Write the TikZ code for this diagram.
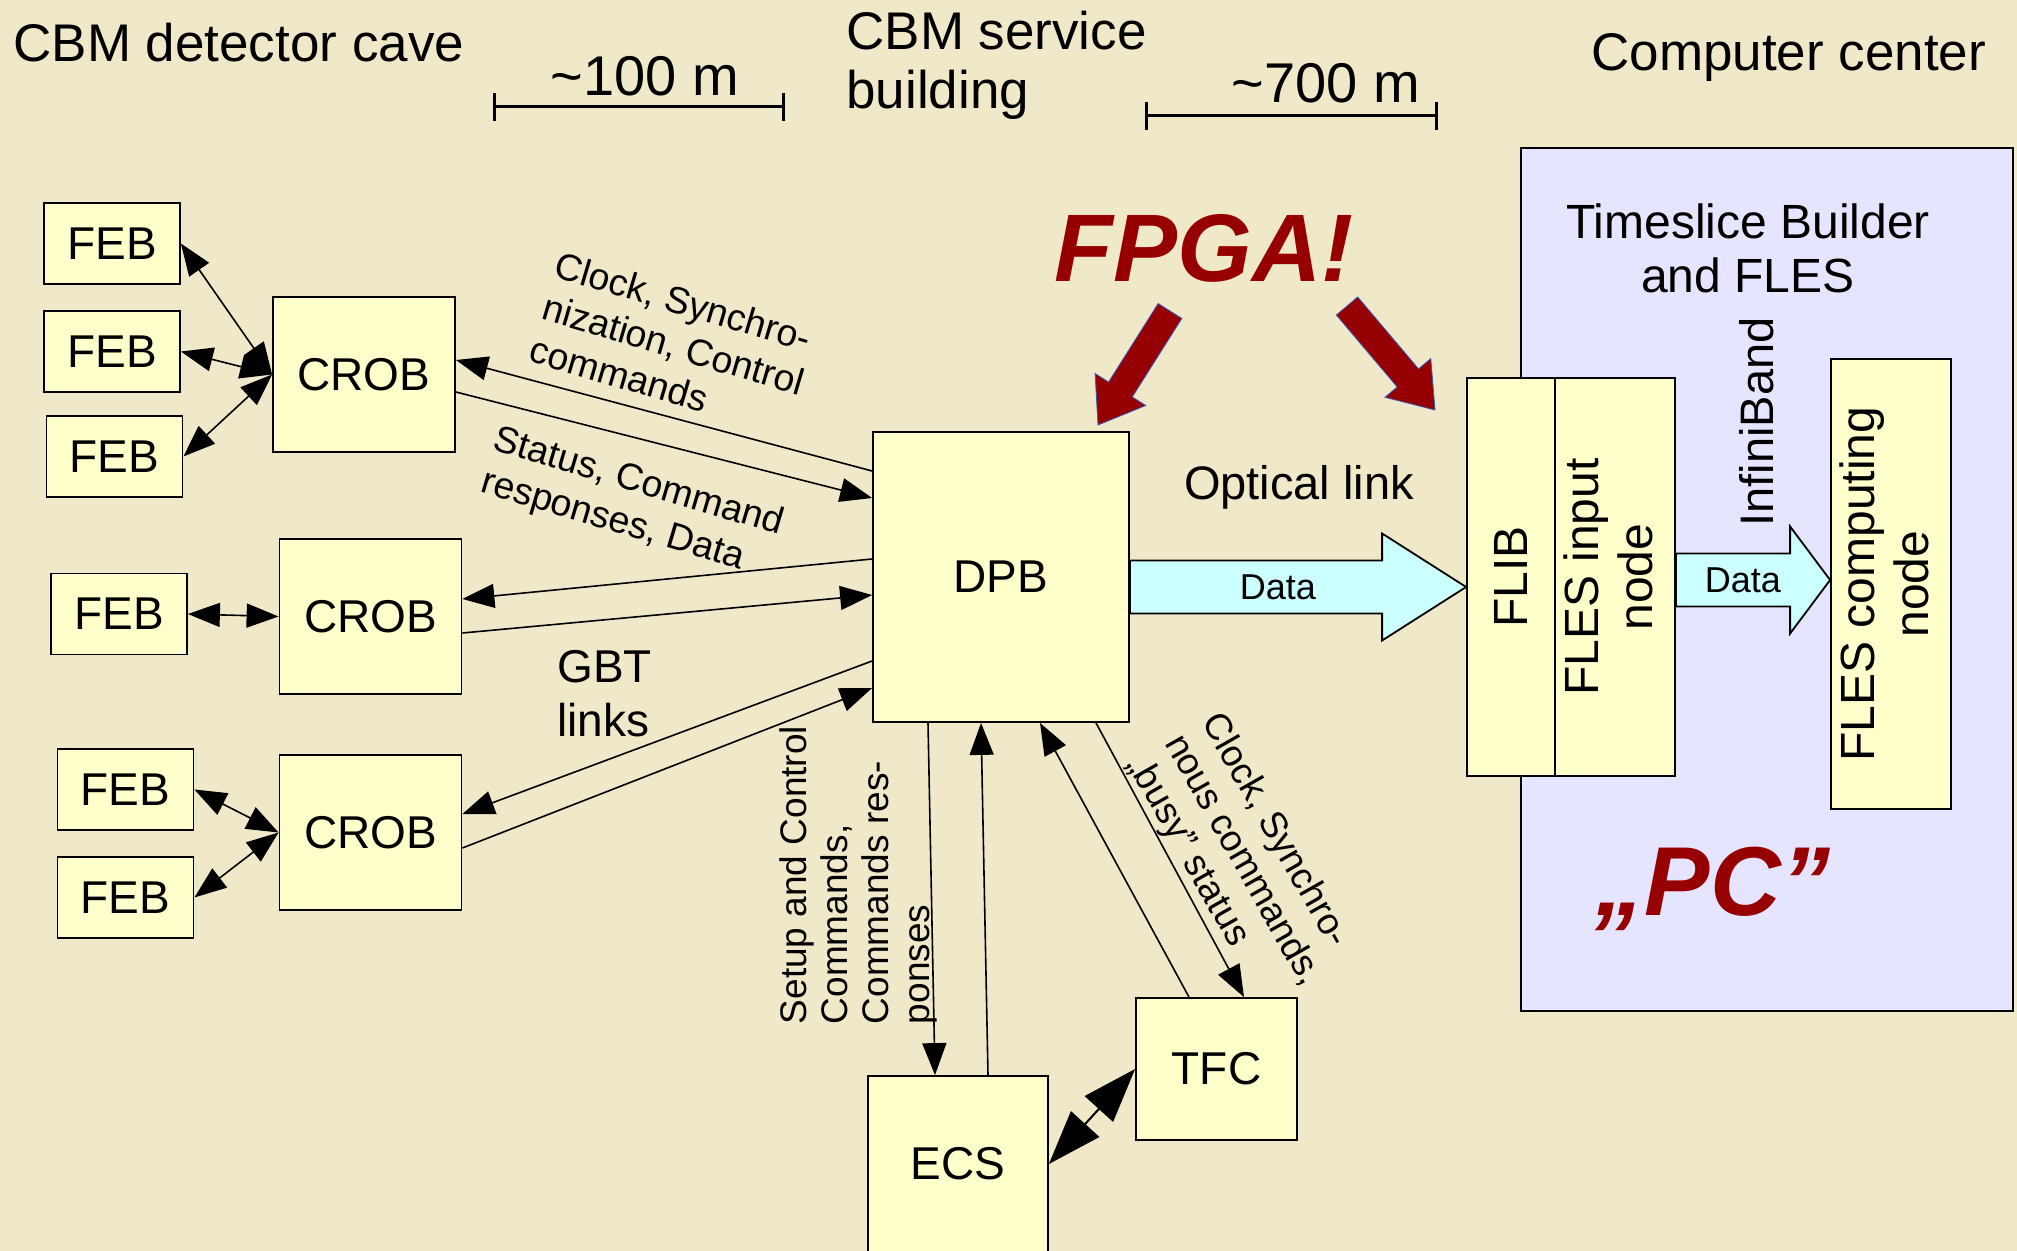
\documentclass[tikz,border=0pt]{standalone}
\usepackage{fontspec}
\setmainfont{Liberation Sans}
\usepackage{graphicx}
\usetikzlibrary{arrows.meta,calc}

\definecolor{cavebg}{RGB}{239,233,201}
\definecolor{boxfill}{RGB}{255,255,204}
\definecolor{pcfill}{RGB}{229,229,255}
\definecolor{datafill}{RGB}{204,255,255}
\definecolor{fpgared}{RGB}{150,0,0}
\definecolor{edgeblue}{RGB}{60,90,190}

\tikzset{
  unit/.style={draw, line width=0.9pt, fill=boxfill, inner sep=0pt, font=\fontsize{23}{27}\selectfont},
  fibre/.style={line width=0.8pt, -{Triangle[length=16pt,width=12pt]}},
  duplex/.style={line width=0.8pt, {Triangle[length=16pt,width=12pt]}-{Triangle[length=16pt,width=12pt]}},
  bigduplex/.style={line width=1pt, {Triangle[length=27pt,width=19pt]}-{Triangle[length=27pt,width=19pt]}},
  heading/.style={inner sep=0pt, font=\fontsize{26.5}{29.5}\selectfont},
  tag/.style={inner sep=0pt, align=left, font=\fontsize{18.75}{22}\selectfont},
  vtag/.style={inner sep=0pt, font=\fontsize{18.5}{20.5}\selectfont},
  scalebar/.style={line width=1.5pt, {Bar[width=14pt]}-{Bar[width=14pt]}},
  databand/.style={draw, line width=0.9pt, fill=datafill, line join=miter},
  shout/.style={inner sep=0pt, text=fpgared, font=\fontsize{48}{50}\selectfont\bfseries\itshape}
}

\begin{document}
\begin{tikzpicture}[x=0.5pt, y=-0.5pt]
    % Background
    \useasboundingbox (0,0) rectangle (2017,1251);
    \fill[cavebg] (0,0) rectangle (2017,1251);

    % Locations and distances
    \node[heading, anchor=base west] (cave) at (13,62) {CBM detector cave};
    \node[heading, anchor=north west, align=left] (service) at (846,11) {CBM service\\building};
    \node[heading, anchor=base west] (center) at (1591,71) {Computer center};
    \node[heading, anchor=base west, font=\fontsize{28}{30}\selectfont] (d100) at (550,96) {\textasciitilde100 m};
    \node[heading, anchor=base west, font=\fontsize{28}{30}\selectfont] (d700) at (1231,103) {\textasciitilde700 m};
    \draw[scalebar] (493,107) -- (785,107);
    \draw[scalebar] (1145,116) -- (1438,116);

    % Computer center
    \node[draw, line width=1.35pt, fill=pcfill, minimum width=246pt, minimum height=431.5pt] (pc) at (1767,579.5) {};
    \node[inner sep=0pt, align=center, font=\fontsize{24}{27}\selectfont] (tsb) at (1748,248) {Timeslice Builder\\and FLES};

    % Front-end boards
    \foreach \n/\x/\y in {1/112/243.5, 2/112/351.5, 3/114.5/456.5, 4/119/614, 5/125.5/789.5, 6/125.5/897.5}
        \node[unit, minimum width=68pt, minimum height=40.5pt] (feb\n) at (\x,\y) {FEB};

    % Readout boards
    \foreach \n/\x/\y in {1/364/374.5, 2/370.5/616.5, 3/370.5/832.5}
        \node[unit, minimum width=91pt, minimum height=77.5pt] (crob\n) at (\x,\y) {CROB};

    % Service building
    \node[unit, minimum width=128pt, minimum height=145pt] (dpb) at (1001,577) {DPB};
    \node[unit, minimum width=90pt, minimum height=88pt] (ecs) at (958,1164) {ECS};
    \node[unit, minimum width=80.5pt, minimum height=71pt] (tfc) at (1216.5,1069) {TFC};

    % FLES nodes
    \node[unit, font=\fontsize{24}{27}\selectfont, minimum width=44pt, minimum height=199pt] (flib) at (1511,577) {\rotatebox{90}{FLIB}};
    \node[unit, font=\fontsize{24}{27}\selectfont, minimum width=60pt, minimum height=199pt] (fin) at (1615,577)
        {\rotatebox{90}{\begin{tabular}{@{}c@{}}FLES input\\node\end{tabular}}};
    \node[unit, font=\fontsize{24}{27}\selectfont, minimum width=60pt, minimum height=225pt] (fcn) at (1891,584)
        {\rotatebox{90}{\begin{tabular}{@{}c@{}}FLES computing\\node\end{tabular}}};
    \node[rotate=90, inner sep=0pt, font=\fontsize{23.5}{26}\selectfont] (ib) at (1757,422) {InfiniBand};

    % Optical link to FLIB
    \coordinate (odtail) at ([yshift=-5pt]dpb.east);
    \coordinate (odtip) at ([yshift=-5pt]flib.west);
    \draw[databand] ($(odtail)+(0,-26.5)$) -- ($(odtip)+(-84,-26.5)$) -- ($(odtip)+(-84,-53.5)$) -- (odtip)
        -- ($(odtip)+(-84,53.5)$) -- ($(odtip)+(-84,26.5)$) -- ($(odtail)+(0,26.5)$) -- cycle;
    \node[inner sep=0pt, font=\fontsize{18}{20}\selectfont] (oddata) at ($(odtail)!0.44!(odtip)$) {Data};
    \node[inner sep=0pt, anchor=base, font=\fontsize{23.5}{26}\selectfont] (optical) at (1299,499) {Optical link};

    % InfiniBand link
    \coordinate (ibtail) at ([yshift=-1.5pt]fin.east);
    \coordinate (ibtip) at ([yshift=2pt]fcn.west);
    \draw[databand] ($(ibtail)+(0,-26.5)$) -- ($(ibtip)+(-40,-26.5)$) -- ($(ibtip)+(-40,-53.5)$) -- (ibtip)
        -- ($(ibtip)+(-40,53.5)$) -- ($(ibtip)+(-40,26.5)$) -- ($(ibtail)+(0,26.5)$) -- cycle;
    \node[inner sep=0pt, font=\fontsize{18}{20}\selectfont] (ibdata) at ($(ibtail)!0.435!(ibtip)$) {Data};

    % FEB to CROB
    \foreach \f/\c in {1/1, 2/1, 3/1, 4/2, 5/3, 6/3}
        \draw[duplex] (feb\f.east) -- (crob\c.west);

    % GBT links, down- and uplink
    \foreach \c/\a/\b/\p/\q in {1/53pt/39.5pt/7.25pt/-8.75pt, 2/9pt/-9pt/8.75pt/-8.25pt, 3/-42pt/-55.5pt/9.25pt/-7.75pt} {
        \draw[fibre] ([yshift=\a]dpb.west) -- ([yshift=\p]crob\c.east);
        \draw[fibre] ([yshift=\q]crob\c.east) -- ([yshift=\b]dpb.west);
    }
    \node[tag, rotate=-16.5, anchor=north west] (clk) at (560,250) {Clock, Synchro-\\nization, Control\\commands};
    \node[tag, rotate=-16.5, anchor=north west] (sts) at (499,423) {Status, Command\\responses, Data};
    \node[inner sep=0pt, anchor=north west, align=left, font=\fontsize{23}{27}\selectfont] (gbt) at (557,649.5) {GBT\\links};

    % DPB to ECS and TFC
    \draw[fibre] ([xshift=-36.5pt]dpb.south) -- ([xshift=-11.5pt]ecs.north);
    \draw[fibre] ([xshift=15pt]ecs.north) -- ([xshift=-10pt]dpb.south);
    \draw[fibre] ([xshift=-13.75pt]tfc.north) -- ([xshift=19.5pt]dpb.south);
    \draw[fibre] ([xshift=47.5pt]dpb.south) -- ([xshift=13.75pt]tfc.north);
    \draw[bigduplex] (tfc.west) -- (ecs.east);
    \node[vtag, rotate=90, align=left] (ecslbl) at (858,875) {Setup and Control\\Commands,\\Commands res-\\ponses};
    \node[tag, rotate=-60.4, anchor=north west, font=\fontsize{18.5}{21.5}\selectfont] (tfclbl) at (1225,708)
        {Clock, Synchro-\\nous commands,\\„busy” status};

    % FPGA and PC
    \node[shout, anchor=base] (fpga) at (1204,282) {FPGA!};
    \node[shout, anchor=base, font=\fontsize{49}{51}\selectfont\bfseries\itshape] (pcq) at (1713,915) {„PC”};
    \coordinate (fa1t) at (1170,311);
    \coordinate (fa1h) at (1098,425);
    \coordinate (fa2t) at (1347,306);
    \coordinate (fa2h) at (1435,410);
    \foreach \ta/\tb in {fa1t/fa1h, fa2t/fa2h} {
        \path ($(\tb)!21pt!(\ta)$) coordinate (hb);
        \filldraw[fill=fpgared, draw=edgeblue, line width=0.4pt]
            ($(\ta)!7pt!90:(\tb)$) -- ($(hb)!7pt!90:(\tb)$) -- ($(hb)!15pt!90:(\tb)$) -- (\tb)
            -- ($(hb)!15pt!-90:(\tb)$) -- ($(hb)!7pt!-90:(\tb)$) -- ($(\ta)!7pt!-90:(\tb)$) -- cycle;
    }
\end{tikzpicture}
\end{document}
